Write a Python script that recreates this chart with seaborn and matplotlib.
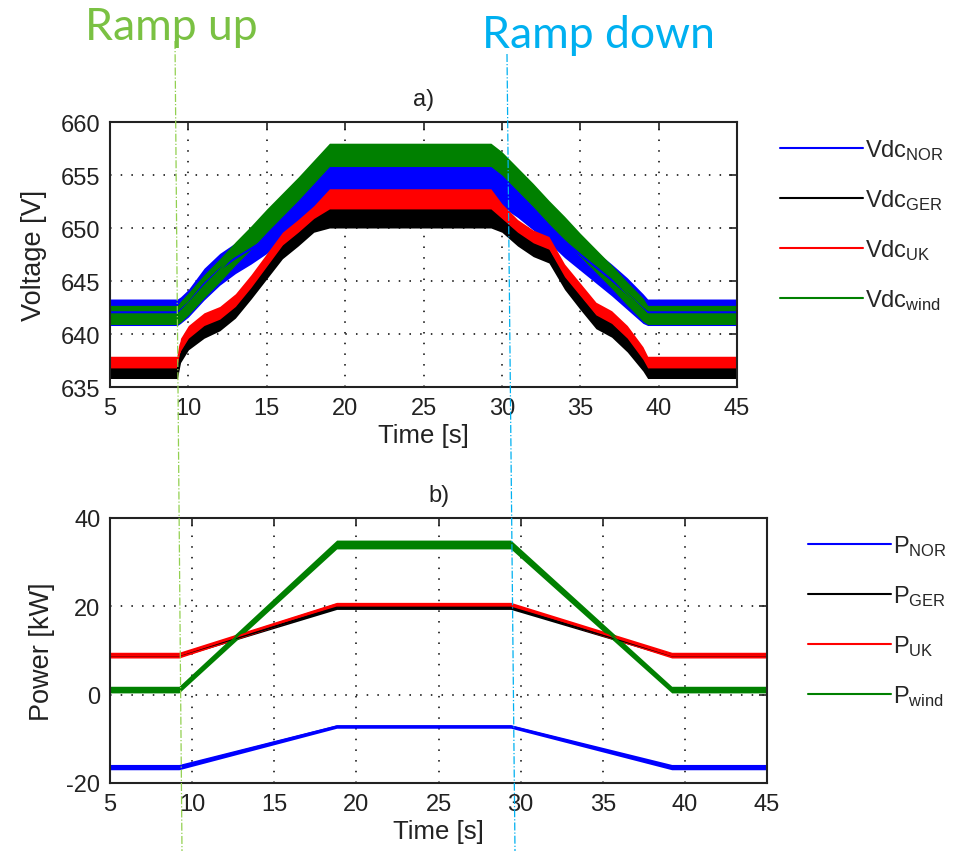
import matplotlib
matplotlib.use('Agg')
import numpy as np
import pandas as pd
import matplotlib.pyplot as plt
import seaborn as sns
from matplotlib.lines import Line2D

# --- data (envelopes of the noisy traces) ---
t_top = [5, 9.3, 9.5, 10, 11, 12, 13, 14, 15, 16, 17, 18, 19, 29.3, 30, 31, 32, 33, 34, 35, 36, 37, 38, 39, 39.3, 45]

vdc_nor_lo = [640.8, 640.8, 641.0, 641.6, 643.2, 644.6, 645.7, 646.6, 647.6, 648.8, 650.2, 651.6, 653.0, 653.0, 652.0, 651.0, 649.8, 648.6, 647.2, 646.0, 644.8, 643.6, 642.3, 641.0, 640.8, 640.8]
vdc_nor_hi = [643.3, 643.3, 643.5, 644.2, 646.2, 647.6, 648.6, 649.5, 650.4, 651.6, 652.9, 654.5, 656.0, 656.0, 655.2, 654.2, 652.8, 651.6, 650.3, 649.0, 647.8, 646.6, 645.3, 643.8, 643.3, 643.3]
vdc_ger_lo = [635.8, 635.8, 637.3, 638.5, 639.6, 640.3, 641.5, 643.3, 645.2, 647.1, 648.3, 649.6, 650.0, 650.0, 649.6, 648.3, 647.3, 646.7, 644.2, 642.3, 640.5, 639.7, 638.3, 636.5, 635.8, 635.8]
vdc_ger_hi = [637.2, 637.2, 638.7, 639.9, 641.0, 641.7, 642.9, 644.7, 646.6, 648.5, 649.7, 651.0, 652.2, 652.2, 651.0, 649.7, 648.7, 648.1, 645.6, 643.7, 641.9, 641.1, 639.7, 637.9, 637.2, 637.2]
vdc_uk_lo = [636.8, 636.8, 638.4, 639.6, 640.8, 641.4, 642.6, 644.4, 646.4, 648.4, 649.6, 650.9, 651.8, 651.8, 650.9, 649.6, 648.6, 648.0, 645.4, 643.6, 641.8, 641.0, 639.6, 637.6, 636.8, 636.8]
vdc_uk_hi = [637.9, 637.9, 639.6, 640.8, 642.0, 642.6, 643.8, 645.6, 647.6, 649.6, 650.8, 652.1, 653.7, 653.7, 652.3, 650.8, 649.8, 649.2, 646.6, 644.8, 643.0, 642.2, 640.8, 638.8, 637.9, 637.9]
vdc_wind_lo = [640.9, 640.9, 641.1, 641.8, 643.4, 644.9, 646.5, 648.0, 649.6, 651.1, 652.6, 654.2, 655.8, 655.8, 655.0, 653.5, 652.0, 650.4, 648.9, 647.3, 645.8, 644.3, 642.7, 641.2, 640.9, 640.9]
vdc_wind_hi = [642.7, 642.7, 643.1, 643.9, 645.6, 647.1, 648.7, 650.2, 651.8, 653.3, 654.8, 656.4, 658.0, 658.0, 657.2, 655.7, 654.2, 652.6, 651.1, 649.5, 648.0, 646.5, 644.9, 643.4, 642.7, 642.7]

t_bot = [5, 9.2, 18.8, 29.4, 39.2, 45]
p_nor_lo = [-17.0, -17.0, -7.6, -7.6, -17.0, -17.0]
p_nor_hi = [-15.8, -15.8, -6.8, -6.8, -15.8, -15.8]
p_ger_lo = [8.5, 8.5, 19.3, 19.3, 8.5, 8.5]
p_ger_hi = [9.3, 9.3, 20.1, 20.1, 9.3, 9.3]
p_uk_lo = [8.3, 8.3, 19.9, 19.9, 8.3, 8.3]
p_uk_hi = [9.6, 9.6, 20.9, 20.9, 9.6, 9.6]
p_wind_lo = [0.4, 0.4, 33.0, 33.0, 0.4, 0.4]
p_wind_hi = [1.9, 1.9, 35.0, 35.0, 1.9, 1.9]

x_ticks = [5, 10, 15, 20, 25, 30, 35, 40, 45]
v_ticks = [635, 640, 645, 650, 655, 660]
p_ticks = [-20, 0, 20, 40]

colors = {'NOR': '#0000ff', 'GER': '#000000', 'UK': '#ff0000', 'wind': '#008000'}

sns.set_theme(style='white')
plt.rcParams['font.family'] = ['Liberation Sans', 'DejaVu Sans']
plt.rcParams['mathtext.default'] = 'regular'
plt.rcParams['axes.unicode_minus'] = False
ink = '#222222'

fig = plt.figure(figsize=(9.72, 8.54), dpi=100)
ax1 = fig.add_axes([110/972, 1-388/854, 627/972, 265/854])
ax2 = fig.add_axes([110/972, 1-784/854, 657/972, 265/854])


def draw(ax, t, series, prefix):
    for name, lo, hi in series:
        df = pd.DataFrame({'t': t, 'lo': lo, 'hi': hi})
        df['mid'] = (df['lo'] + df['hi']) / 2
        ax.fill_between(df['t'], df['lo'], df['hi'], color=colors[name], lw=0)
        sns.lineplot(data=df, x='t', y='mid', color=colors[name], lw=1.5,
                     label='$%s_{%s}$' % (prefix, name), ax=ax)


def style(ax, yticks):
    ax.set_xlim(5, 45)
    ax.set_xticks(x_ticks)
    ax.set_ylim(yticks[0], yticks[-1])
    ax.set_yticks(yticks)
    ax.grid(True, linestyle=(0, (1, 6)), color='black', linewidth=1.1)
    ax.tick_params(direction='in', top=True, right=True, length=6, width=1.2,
                   labelsize=17, colors=ink, pad=7)
    for s in ax.spines.values():
        s.set_linewidth(1.5)
        s.set_color(ink)
    ax.set_xlabel('Time [s]', fontsize=18.5, color=ink, labelpad=3)


draw(ax1, t_top, [('NOR', vdc_nor_lo, vdc_nor_hi), ('GER', vdc_ger_lo, vdc_ger_hi),
                  ('UK', vdc_uk_lo, vdc_uk_hi), ('wind', vdc_wind_lo, vdc_wind_hi)], 'Vdc')
draw(ax2, t_bot, [('NOR', p_nor_lo, p_nor_hi), ('GER', p_ger_lo, p_ger_hi),
                  ('UK', p_uk_lo, p_uk_hi), ('wind', p_wind_lo, p_wind_hi)], 'P')

style(ax1, v_ticks)
style(ax2, p_ticks)
ax1.set_ylabel('Voltage [V]', fontsize=19.5, color=ink, labelpad=10)
ax2.set_ylabel('Power [kW]', fontsize=19.5, color=ink, labelpad=8)
ax1.set_title('a)', fontsize=17, pad=12, color=ink)
ax2.set_title('b)', fontsize=17, pad=12, color=ink)

for ax, x0, y0 in [(ax1, 780, 138), (ax2, 808, 534)]:
    h, l = ax.get_legend_handles_labels()
    ax.legend(h, l, loc='upper left', bbox_to_anchor=(x0/972, 1-y0/854),
              bbox_transform=fig.transFigure, frameon=False, handlelength=3.5,
              handletextpad=0.1, labelspacing=1.06, borderpad=0, borderaxespad=0,
              fontsize=17)

# ramp annotations
fig.add_artist(Line2D([175/972, 182/972], [1-42/854, 1-852/854], transform=fig.transFigure,
                      color='#92d050', lw=0.9, linestyle='-.'))
fig.add_artist(Line2D([507/972, 515/972], [1-55/854, 1-852/854], transform=fig.transFigure,
                      color='#00b0f0', lw=0.9, linestyle='-.'))
fig.text(171/972, 1-27/854, 'Ramp up', color='#7ac143', fontsize=32, ha='center', va='center',
         family=['Lato', 'DejaVu Sans'])
fig.text(598/972, 1-36/854, 'Ramp down', color='#00b0f0', fontsize=32, ha='center', va='center',
         family=['Lato', 'DejaVu Sans'])

fig.savefig('out.png', dpi=100)
